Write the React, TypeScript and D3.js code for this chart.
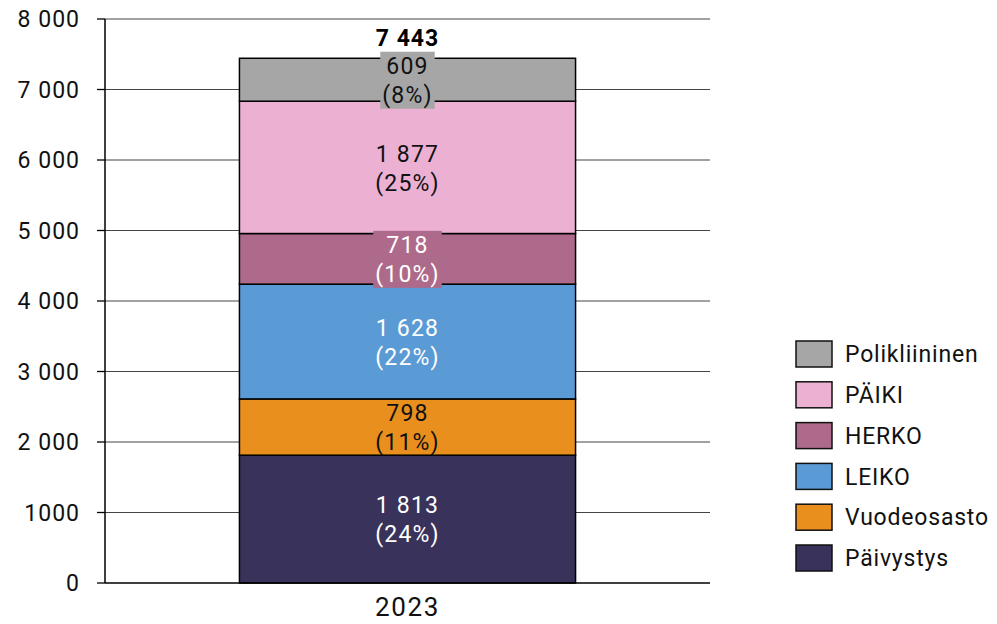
import React, { useEffect, useRef } from "react";
import * as d3 from "d3";

const categories = ["2023"];
const seriesNames = ["Päivystys", "Vuodeosasto", "LEIKO", "HERKO", "PÄIKI", "Polikliininen"];
const seriesValues = [1813, 798, 1628, 718, 1877, 609];
const seriesPercents = ["24%", "11%", "22%", "10%", "25%", "8%"];
const seriesColors = ["#39325a", "#e88f1e", "#5b9bd5", "#ae6a8a", "#ebb0d2", "#a6a6a6"];
const labelColors = ["#ffffff", "#111111", "#ffffff", "#ffffff", "#111111", "#111111"];
const tickValues = [0, 1000, 2000, 3000, 4000, 5000, 6000, 7000, 8000];
const tickLabels = ["0", "1000", "2 000", "3 000", "4 000", "5 000", "6 000", "7 000", "8 000"];

const W = 997;
const H = 624;
const FONT = "Roboto, 'Noto Sans', sans-serif";

export default function App() {
  const ref = useRef<SVGSVGElement>(null);

  useEffect(() => {
    const svg = d3.select(ref.current);
    svg.selectAll("*").remove();
    const fmt = d3.formatLocale({ thousands: " ", grouping: [3], decimal: ",", currency: ["", ""] }).format(",d");

    const left = 105, right = 710, top = 19, bottom = 583;
    const y = d3.scaleLinear().domain([0, 8000]).range([bottom, top]);
    const x = d3.scaleBand().domain(categories).range([left, right]).paddingInner(0).paddingOuter(0.4);

    const g = svg.append("g");
    g.selectAll("line.grid").data(tickValues.filter(v => v > 0)).enter().append("line")
      .attr("x1", left).attr("x2", right).attr("y1", d => y(d)).attr("y2", d => y(d))
      .attr("stroke", "#444").attr("stroke-width", 1);
    g.selectAll("line.tick").data(tickValues).enter().append("line")
      .attr("x1", left - 8).attr("x2", left).attr("y1", d => y(d)).attr("y2", d => y(d))
      .attr("stroke", "#000").attr("stroke-width", 1.3);
    g.selectAll("text.tl").data(tickValues).enter().append("text")
      .attr("x", left - 25).attr("y", d => y(d)).attr("dy", "0.36em")
      .attr("text-anchor", "end").attr("font-family", FONT).attr("font-size", 23)
      .attr("letter-spacing", 1).attr("fill", "#111")
      .text((d, i) => tickLabels[i]);

    const cat = categories[0];
    const bx = x(cat)!;
    const bw = x.bandwidth();
    let cum = 0;
    const total = d3.sum(seriesValues);
    const segs = seriesValues.map((v, i) => {
      const s = { i, y0: cum, y1: cum + v };
      cum += v;
      return s;
    });
    g.selectAll("rect.seg").data(segs).enter().append("rect")
      .attr("x", bx).attr("width", bw)
      .attr("y", d => y(d.y1)).attr("height", d => y(d.y0) - y(d.y1))
      .attr("fill", d => seriesColors[d.i]).attr("stroke", "#000").attr("stroke-width", 1.5);

    g.append("line").attr("x1", left).attr("x2", left).attr("y1", top).attr("y2", bottom).attr("stroke", "#000").attr("stroke-width", 1.5);
    g.append("line").attr("x1", left).attr("x2", right).attr("y1", bottom).attr("y2", bottom).attr("stroke", "#000").attr("stroke-width", 1.5);

    segs.forEach(s => {
      const cx = bx + bw / 2;
      const cy = (y(s.y0) + y(s.y1)) / 2;
      const h = y(s.y0) - y(s.y1);
      const lg = g.append("g");
      const bg = lg.append("rect");
      const t = lg.append("text").attr("text-anchor", "middle").attr("font-family", FONT)
        .attr("font-size", 23).attr("letter-spacing", 1.2).attr("fill", labelColors[s.i]);
      t.append("tspan").attr("x", cx).attr("y", cy - 14).attr("dy", "0.36em").text(fmt(seriesValues[s.i]));
      t.append("tspan").attr("x", cx).attr("y", cy + 15).attr("dy", "0.36em").text("(" + seriesPercents[s.i] + ")");
      if (h < 54) {
        const bb = (t.node() as SVGTextElement).getBBox();
        bg.attr("x", bb.x - 2).attr("y", cy - 28).attr("width", bb.width + 4).attr("height", 57)
          .attr("fill", seriesColors[s.i]);
      } else {
        bg.remove();
      }
    });

    g.append("text").attr("x", bx + bw / 2).attr("y", y(total) - 21).attr("dy", "0.36em")
      .attr("text-anchor", "middle").attr("font-family", FONT).attr("font-weight", "bold")
      .attr("font-size", 23).attr("letter-spacing", 1).attr("fill", "#000").text(fmt(total));

    g.append("text").attr("x", bx + bw / 2).attr("y", bottom + 24).attr("dy", "0.36em")
      .attr("text-anchor", "middle").attr("font-family", FONT).attr("font-size", 26)
      .attr("letter-spacing", 1.6).attr("fill", "#111").text(cat);

    const legendOrder = seriesNames.map((n, i) => i).reverse();
    const lgd = g.append("g");
    legendOrder.forEach((si, k) => {
      const ly = 354 + k * 40.8;
      lgd.append("rect").attr("x", 796).attr("y", ly - 13).attr("width", 36).attr("height", 26)
        .attr("fill", seriesColors[si]).attr("stroke", "#111").attr("stroke-width", 1.5);
      lgd.append("text").attr("x", 845).attr("y", ly).attr("dy", "0.36em")
        .attr("font-family", FONT).attr("font-size", 23).attr("letter-spacing", 0.8)
        .attr("fill", "#111").text(seriesNames[si]);
    });
  }, []);

  return <svg ref={ref} width={W} height={H} style={{ position: "absolute", left: 0, top: 0 }} />;
}
